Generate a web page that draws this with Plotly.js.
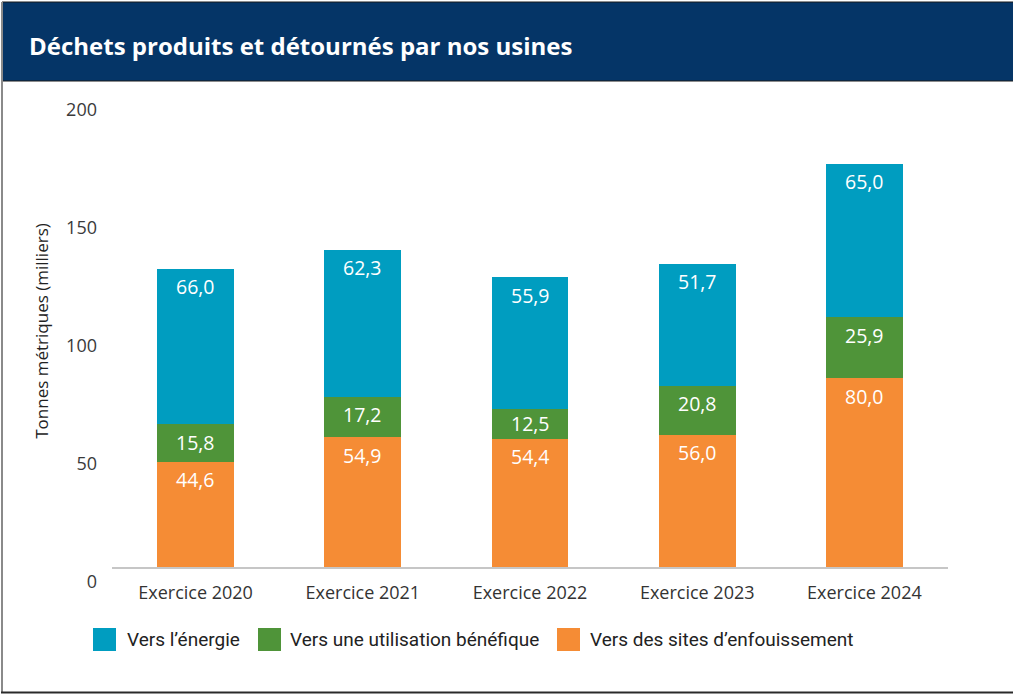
<!DOCTYPE html>
<html>
<head>
<meta charset="utf-8">
<script src="https://cdn.plot.ly/plotly-3.0.1.min.js"></script>
<style>
  html, body { margin: 0; padding: 0; background: #ffffff; }
  #chart { width: 1013px; height: 695px; }
</style>
</head>
<body>
<div id="chart"></div>
<script>
// ---- Data ----
const categories = ['Exercice 2020', 'Exercice 2021', 'Exercice 2022', 'Exercice 2023', 'Exercice 2024'];
const versEnfouissement = [44.6, 54.9, 54.4, 56.0, 80.0];
const versUtilisation = [15.8, 17.2, 12.5, 20.8, 25.9];
const versEnergie = [66.0, 62.3, 55.9, 51.7, 65.0];
const seriesNames = ['Vers l’énergie', 'Vers une utilisation bénéfique', 'Vers des sites d’enfouissement'];
const yTickVals = [0, 50, 100, 150, 200];
const chartTitle = 'Déchets produits et détournés par nos usines';
const yTitle = 'Tonnes métriques (milliers)';

// ---- Style ----
const colEnergie = '#009dc0';
const colUtil = '#4f9439';
const colEnf = '#f58c35';
const navy = '#053567';
const W = 1013, H = 695;
const M = {l: 112, r: 65, t: 95, b: 128};
const plotW = W - M.l - M.r;
const plotH = H - M.t - M.b;
const yMax = 200;
const pxPerUnit = plotH / yMax;
const px2x = px => (px - M.l) / plotW;
const py2y = py => (H - M.b - py) / plotH;
const fmt = v => v.toFixed(1).replace('.', ',');

const stacks = [
  {name: seriesNames[2], vals: versEnfouissement, color: colEnf},
  {name: seriesNames[1], vals: versUtilisation, color: colUtil},
  {name: seriesNames[0], vals: versEnergie, color: colEnergie}
];

const traces = stacks.map(s => ({
  type: 'bar', x: categories, y: s.vals, name: s.name,
  marker: {color: s.color, line: {width: 0}},
  hoverinfo: 'x+y+name', showlegend: false
}));

// value labels near the top of each segment
const annotations = [];
const cum = categories.map(() => 0);
stacks.forEach(s => {
  s.vals.forEach((v, i) => {
    cum[i] += v;
    const segPx = v * pxPerUnit;
    annotations.push({
      x: categories[i], y: cum[i], xref: 'x', yref: 'y',
      text: fmt(v), showarrow: false, yanchor: 'middle',
      yshift: -Math.min(18, segPx / 2),
      font: {family: 'Open Sans, sans-serif', size: 19.5, color: '#ffffff'}
    });
  });
});

// title
annotations.push({
  xref: 'paper', yref: 'paper', x: px2x(27), y: py2y(45),
  xanchor: 'left', yanchor: 'middle', showarrow: false,
  text: '<b>' + chartTitle + '</b>',
  font: {family: 'Open Sans, sans-serif', size: 24, color: '#ffffff'}
});

// custom legend
const legendItems = [
  {name: seriesNames[0], color: colEnergie, sx: 93, tx: 125},
  {name: seriesNames[1], color: colUtil, sx: 258, tx: 288},
  {name: seriesNames[2], color: colEnf, sx: 557, tx: 588}
];
const shapes = [];
legendItems.forEach(it => {
  shapes.push({type: 'rect', xref: 'paper', yref: 'paper',
    x0: px2x(it.sx), x1: px2x(it.sx + 23), y0: py2y(628), y1: py2y(651),
    fillcolor: it.color, line: {width: 0}});
  annotations.push({xref: 'paper', yref: 'paper', x: px2x(it.tx), y: py2y(639.5),
    xanchor: 'left', yanchor: 'middle', showarrow: false, text: it.name,
    font: {family: 'Roboto, sans-serif', size: 19, color: '#222222'}});
});

// header band and frame
shapes.push({type: 'rect', xref: 'paper', yref: 'paper', layer: 'below',
  x0: px2x(2), x1: px2x(W + 5), y0: py2y(81), y1: py2y(2),
  fillcolor: navy, line: {color: '#1a1a1a', width: 1}});
shapes.push({type: 'line', xref: 'paper', yref: 'paper',
  x0: px2x(2), x1: px2x(2), y0: py2y(2), y1: py2y(693),
  line: {color: '#8a8a8a', width: 2}});
shapes.push({type: 'line', xref: 'paper', yref: 'paper',
  x0: px2x(1), x1: px2x(W + 5), y0: py2y(692.5), y1: py2y(692.5),
  line: {color: '#2a2a2a', width: 2}});

const layout = {
  width: W, height: H,
  margin: M,
  paper_bgcolor: '#ffffff', plot_bgcolor: '#ffffff',
  barmode: 'stack', bargap: 0.54,
  showlegend: false,
  font: {family: 'Open Sans, sans-serif', color: '#333333'},
  xaxis: {
    type: 'category', showline: true, linecolor: '#c6c6c6', linewidth: 1.5,
    ticks: '', showgrid: false, zeroline: false,
    tickfont: {family: 'Open Sans, sans-serif', size: 18, color: '#333333'},
    ticklabelstandoff: 9, fixedrange: true
  },
  yaxis: {
    range: [0, yMax], tickvals: yTickVals, ticktext: yTickVals.map(String),
    showgrid: false, zeroline: false, showline: false, ticks: '',
    tickfont: {family: 'Open Sans, sans-serif', size: 18, color: '#3a3a3a'},
    ticklabelstandoff: 14, ticklabelshift: 15,
    title: {text: yTitle, standoff: 13,
      font: {family: 'Open Sans, sans-serif', size: 17, color: '#222222'}},
    fixedrange: true
  },
  annotations: annotations,
  shapes: shapes
};

Plotly.newPlot('chart', traces, layout, {displayModeBar: false, staticPlot: true});
</script>
</body>
</html>
